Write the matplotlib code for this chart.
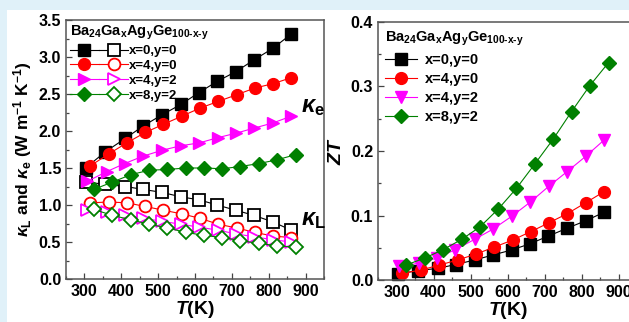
import matplotlib
matplotlib.use('Agg')
import matplotlib.pyplot as plt
from matplotlib.legend_handler import HandlerTuple
from matplotlib.patches import Rectangle
from matplotlib.ticker import MultipleLocator, FormatStrFormatter

plt.rcParams['font.family'] = ['Liberation Sans', 'DejaVu Sans']
plt.rcParams['font.weight'] = 'bold'
plt.rcParams['axes.labelweight'] = 'bold'
plt.rcParams['mathtext.fontset'] = 'custom'
plt.rcParams['mathtext.rm'] = 'Liberation Sans:bold'
plt.rcParams['mathtext.it'] = 'Liberation Sans:italic:bold'
plt.rcParams['mathtext.bf'] = 'Liberation Sans:bold'

# ---------------- data ----------------
labels = ['x=0,y=0', 'x=4,y=0', 'x=4,y=2', 'x=8,y=2']
colors = ['black', 'red', 'magenta', '#008000']
title = r'Ba$_{\rm 24}$Ga$_{\rm x}$Ag$_{\rm y}$Ge$_{\rm 100\text{-}x\text{-}y}$'

T_00 = [303, 357, 411, 460, 511, 562, 611, 660, 710, 760, 812, 861]
T_40 = [316, 366, 415, 465, 514, 564, 614, 663, 713, 762, 812, 861]
T_42 = [308, 360, 409, 459, 511, 561, 612, 662, 711, 761, 812, 861]
T_82 = [325, 376, 426, 476, 525, 575, 624, 674, 723, 773, 822, 873]

ke_00 = [1.50, 1.72, 1.90, 2.07, 2.22, 2.36, 2.52, 2.67, 2.80, 2.96, 3.12, 3.31]
ke_40 = [1.53, 1.69, 1.84, 1.98, 2.09, 2.20, 2.31, 2.40, 2.49, 2.58, 2.64, 2.72]
ke_42 = [1.32, 1.45, 1.56, 1.66, 1.74, 1.80, 1.84, 1.91, 1.97, 2.04, 2.11, 2.20]
ke_82 = [1.21, 1.31, 1.41, 1.47, 1.48, 1.50, 1.50, 1.49, 1.52, 1.56, 1.61, 1.68]

kl_00 = [1.31, 1.28, 1.25, 1.21, 1.17, 1.11, 1.07, 1.00, 0.93, 0.86, 0.77, 0.66]
kl_40 = [1.03, 1.04, 1.03, 0.98, 0.93, 0.88, 0.82, 0.74, 0.69, 0.63, 0.58, 0.56]
kl_42 = [0.93, 0.91, 0.87, 0.82, 0.78, 0.74, 0.70, 0.66, 0.61, 0.57, 0.53, 0.50]
kl_82 = [0.94, 0.86, 0.80, 0.74, 0.69, 0.63, 0.59, 0.56, 0.52, 0.48, 0.45, 0.43]

zt_00 = [0.0093, 0.0145, 0.018, 0.024, 0.031, 0.039, 0.0465, 0.056, 0.068, 0.080, 0.092, 0.105]
zt_40 = [0.0103, 0.0155, 0.023, 0.031, 0.040, 0.051, 0.062, 0.075, 0.089, 0.103, 0.120, 0.137]
zt_42 = [0.021, 0.026, 0.034, 0.047, 0.063, 0.079, 0.099, 0.121, 0.145, 0.168, 0.192, 0.217]
zt_82 = [0.023, 0.034, 0.047, 0.063, 0.082, 0.110, 0.142, 0.180, 0.218, 0.261, 0.301, 0.337]

temps = [T_00, T_40, T_42, T_82]
kes = [ke_00, ke_40, ke_42, ke_82]
kls = [kl_00, kl_40, kl_42, kl_82]
zts = [zt_00, zt_40, zt_42, zt_82]
mk_left = ['s', 'o', '>', 'D']
mk_right = ['s', 'o', 'v', 'D']
msizes = [8, 8.5, 8.5, 6.8]

# ---------------- figure ----------------
W, H = 629, 322
fig = plt.figure(figsize=(W / 100, H / 100), dpi=100)
fig.patch.set_facecolor('#e0f1f9')
fig.add_artist(Rectangle((7 / W, 0), 1, (H - 10) / H, transform=fig.transFigure,
                         facecolor='white', edgecolor='none', zorder=-5))

ax1 = fig.add_axes([66 / W, 43 / H, 258 / W, 259 / H])
ax2 = fig.add_axes([378 / W, 42 / H, 259 / W, 258 / H])

lw = 0.8
handles_left = []
for T, ke, kl, c, m, ms in zip(temps, kes, kls, colors, mk_left, msizes):
    h1, = ax1.plot(T, ke, color=c, lw=lw, marker=m, ms=ms, mfc=c, mec=c, clip_on=False)
    h2, = ax1.plot(T, kl, color=c, lw=lw, marker=m, ms=ms, mfc='white', mec=c, mew=1.3, clip_on=False)
    handles_left.append((h1, h2))

handles_right = []
for T, zt, c, m, ms in zip(temps, zts, colors, mk_right, msizes):
    h, = ax2.plot(T, zt, color=c, lw=lw, marker=m, ms=ms, mfc=c, mec=c, clip_on=False)
    handles_right.append(h)

for ax in (ax1, ax2):
    ax.set_xlim(250, 950)
    ax.xaxis.set_major_locator(MultipleLocator(100))
    ax.xaxis.set_minor_locator(MultipleLocator(50))
    ax.tick_params(which='both', direction='in', top=False, right=False,
                   labelsize=11.5, color='#444444', width=0.9)
    ax.tick_params(which='major', length=4)
    ax.tick_params(which='minor', length=2.5)
    for s in ax.spines.values():
        s.set_color('#555555')
        s.set_linewidth(1.1)
    ax.set_xticks([300, 400, 500, 600, 700, 800, 900])
    ax.set_xlabel(r'$T$(K)', fontsize=14, labelpad=0)

ax1.set_ylim(0, 3.5)
ax1.yaxis.set_major_locator(MultipleLocator(0.5))
ax1.yaxis.set_minor_locator(MultipleLocator(0.25))
ax1.yaxis.set_major_formatter(FormatStrFormatter('%.1f'))
ax1.set_ylabel(r'$\kappa_{\rm L}$ and $\kappa_{\rm e}$ (W m$^{-1}$ K$^{-1}$)', fontsize=12.5, labelpad=3)

ax2.set_ylim(0, 0.4)
ax2.yaxis.set_major_locator(MultipleLocator(0.1))
ax2.yaxis.set_minor_locator(MultipleLocator(0.05))
ax2.yaxis.set_major_formatter(FormatStrFormatter('%.1f'))
ax2.set_ylabel(r'$ZT$', fontsize=14, labelpad=4)

ax1.text(887, 2.33, r'$\kappa_{\rm e}$', fontsize=17, ha='left', va='center', clip_on=False)
ax1.text(887, 0.80, r'$\kappa_{\rm L}$', fontsize=17, ha='left', va='center', clip_on=False)

leg1 = ax1.legend(handles_left, labels, handler_map={tuple: HandlerTuple(ndivide=None, pad=0.0)},
                  title=title, title_fontproperties={'size': 10.5, 'weight': 'bold'},
                  loc='upper left', frameon=False, fontsize=9.5, handlelength=4.4,
                  handletextpad=0.05, labelspacing=0.2, borderaxespad=0.15, borderpad=0.15,
                  alignment='left')

leg2 = ax2.legend(handles_right, labels, title=title,
                  title_fontproperties={'size': 10.5, 'weight': 'bold'},
                  loc='upper left', frameon=False, fontsize=10.5, handlelength=2.2,
                  handletextpad=0.5, labelspacing=0.35, borderaxespad=0.2, borderpad=0.3,
                  alignment='left')

fig.savefig('out.png', dpi=100, facecolor=fig.get_facecolor())
